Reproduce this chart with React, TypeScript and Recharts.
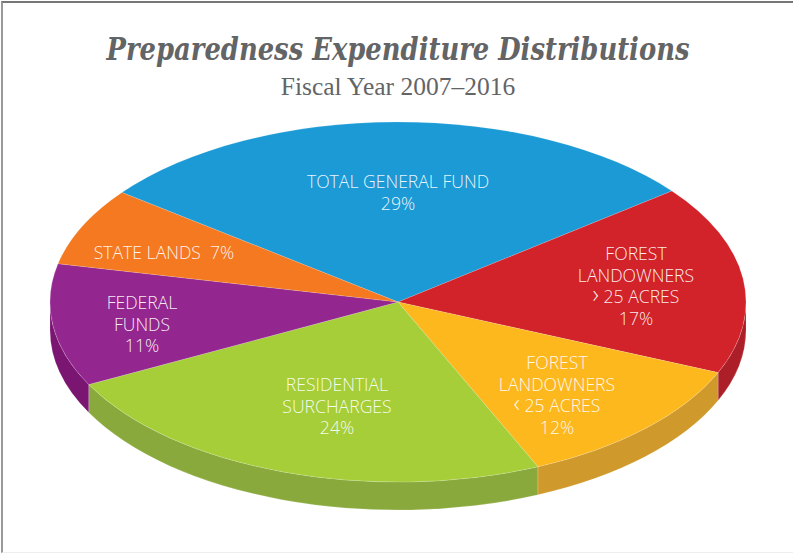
import { PieChart, Pie } from "recharts";

const categories = [
  "TOTAL GENERAL FUND",
  "FOREST LANDOWNERS > 25 ACRES",
  "FOREST LANDOWNERS < 25 ACRES",
  "RESIDENTIAL SURCHARGES",
  "FEDERAL FUNDS",
  "STATE LANDS",
];
const shares = [29, 17, 12, 24, 11, 7];
const topColors = ["#1c9ad6", "#d2232a", "#fdb81e", "#a6ce39", "#93278f", "#f47920"];
const sideColors = ["#157aa8", "#ad1f28", "#cf9a2b", "#8aa93d", "#7a1572", "#c9601a"];
const labelLines = [
  ["TOTAL GENERAL FUND", "29%"],
  ["FOREST", "LANDOWNERS", "› 25 ACRES", "17%"],
  ["FOREST", "LANDOWNERS", "‹ 25 ACRES", "12%"],
  ["RESIDENTIAL", "SURCHARGES", "24%"],
  ["FEDERAL", "FUNDS", "11%"],
  ["STATE LANDS  7%"],
];

const data = categories.map((name, i) => ({ name, value: shares[i], top: topColors[i], side: sideColors[i] }));

// layout of the drawing, in page pixels
const CX = 398;
const CY = 302;
const RX = 348;
const RY = 180;
const DEPTH = 28;
const START = 142.5;
const labelCenters: [number, number][] = [
  [398, 188],
  [636, 260],
  [557, 369],
  [337, 391],
  [142, 309],
  [164, 259],
];

const rad = (a: number) => (a * Math.PI) / 180;
const px = (a: number) => CX + RX * Math.cos(rad(a));
const py = (a: number) => CY - RY * Math.sin(rad(a));

function TopSlice(props: any) {
  const { startAngle: a, endAngle: b, payload } = props;
  const large = Math.abs(a - b) > 180 ? 1 : 0;
  const d = `M${CX},${CY}L${px(a)},${py(a)}A${RX},${RY} 0 ${large} 1 ${px(b)},${py(b)}Z`;
  return <path d={d} fill={payload.top} stroke="#ffffff" strokeOpacity={0.25} strokeWidth={0.6} />;
}

// only the front half of the rim can be seen
function SideSlice(props: any) {
  const { startAngle, endAngle, payload } = props;
  const a = Math.min(startAngle, 0);
  const b = Math.max(endAngle, -180);
  if (a <= b) return <g />;
  const d =
    `M${px(a)},${py(a)}A${RX},${RY} 0 0 1 ${px(b)},${py(b)}` +
    `L${px(b)},${py(b) + DEPTH}A${RX},${RY} 0 0 0 ${px(a)},${py(a) + DEPTH}Z`;
  return <path d={d} fill={payload.side} stroke="#ffffff" strokeOpacity={0.25} strokeWidth={0.6} />;
}

function SliceLabel(props: any) {
  const lines = labelLines[props.index];
  const [x, y] = labelCenters[props.index];
  return (
    <text
      x={x}
      y={y}
      textAnchor="middle"
      fill="#ffffff"
      fillOpacity={0.92}
      fontFamily="'Open Sans', sans-serif"
      fontWeight={300}
      fontSize={17.6}
    >
      {lines.map((line, i) => (
        <tspan key={i} x={x} dy={i === 0 ? 0 : 21.5} xmlSpace="preserve">
          {line[0] === "‹" || line[0] === "›" ? <tspan fontSize={25}>{line[0]}</tspan> : line[0]}
          {line.slice(1)}
        </tspan>
      ))}
    </text>
  );
}

export default function App() {
  return (
    <div style={{ position: "absolute", left: 0, top: 0, width: 793, height: 553, background: "#fff", overflow: "hidden" }}>
      <div style={{ position: "absolute", left: 1, top: 1, width: 792, height: 552, borderLeft: "2px solid #999", borderTop: "2px solid #777", borderBottom: "1px solid #eee", boxSizing: "border-box" }} />
      <PieChart width={793} height={553} margin={{ top: 0, right: 0, bottom: 0, left: 0 }} style={{ position: "absolute", left: 0, top: 0 }}>
        <text x={398} y={60} textAnchor="middle" textLength={583} lengthAdjust="spacingAndGlyphs" fill="#636466" fontFamily="'DejaVu Serif', serif" fontWeight={700} fontStyle="italic" fontSize={31}>
          Preparedness Expenditure Distributions
        </text>
        <text x={398} y={95} textAnchor="middle" fill="#636466" fontFamily="'Liberation Serif', serif" fontSize={25.5}>
          Fiscal Year 2007–2016
        </text>
        <Pie
          data={data}
          dataKey="value"
          cx={CX}
          cy={CY}
          outerRadius={RX}
          startAngle={START}
          endAngle={START - 360}
          shape={SideSlice}
          isAnimationActive={false}
        />
        <Pie
          data={data}
          dataKey="value"
          cx={CX}
          cy={CY}
          outerRadius={RX}
          startAngle={START}
          endAngle={START - 360}
          shape={TopSlice}
          label={SliceLabel}
          labelLine={false}
          isAnimationActive={false}
        />
      </PieChart>
    </div>
  );
}
